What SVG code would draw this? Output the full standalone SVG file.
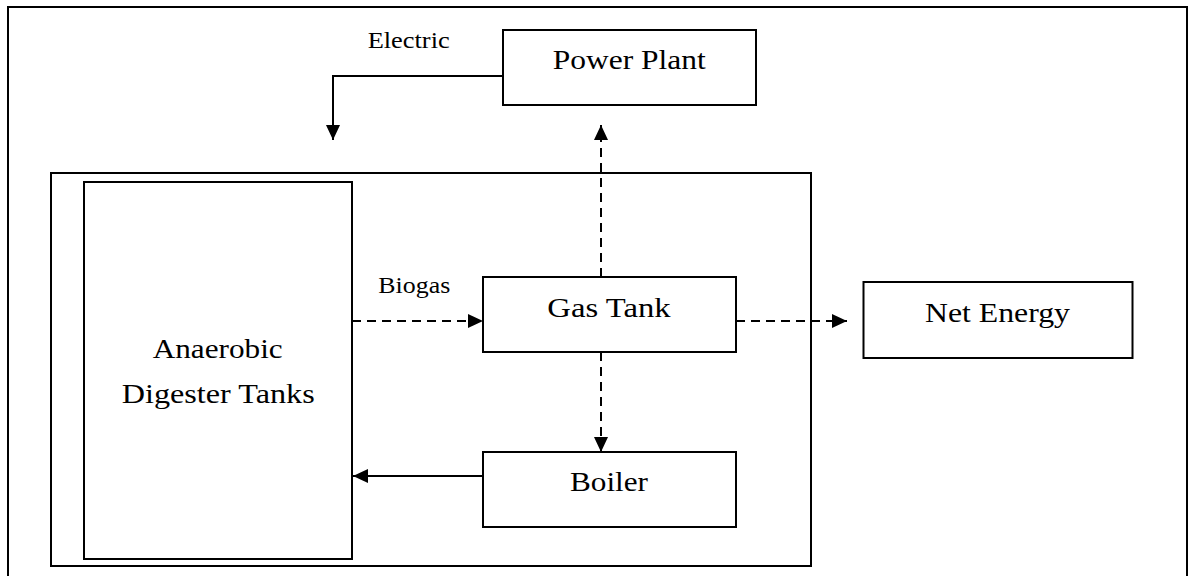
<svg xmlns="http://www.w3.org/2000/svg" width="1189" height="576" viewBox="0 0 1189 576">
<defs>
<style>
.box{fill:#fff;stroke:#000;stroke-width:2}
.frame{fill:none;stroke:#000;stroke-width:2}
.lbl{font-family:"Liberation Serif","Times New Roman",serif;font-size:28px;fill:#000}
.sm{font-family:"Liberation Serif","Times New Roman",serif;font-size:23px;fill:#000}
.solid{fill:none;stroke:#000;stroke-width:2}
.dash{fill:none;stroke:#000;stroke-width:2;stroke-dasharray:9 6}
</style>
<marker id="ah" markerUnits="userSpaceOnUse" markerWidth="16" markerHeight="16" viewBox="0 0 16 16" refX="15" refY="8" orient="auto">
<path d="M0,1 L15,8 L0,15 Z" fill="#000"/>
</marker>
</defs>
<rect class="frame" x="8" y="7" width="1179" height="620"/>
<g id="container"><rect class="frame" x="51" y="173" width="760" height="393"/></g>
<g id="power-plant"><rect class="box" x="503" y="30" width="253" height="75"/><text class="lbl" x="552.7" y="69.3" textLength="153" lengthAdjust="spacingAndGlyphs">Power Plant</text></g>
<g id="digester"><rect class="box" x="84" y="182" width="268" height="377"/><text class="lbl" x="152.7" y="358.3" textLength="130" lengthAdjust="spacingAndGlyphs">Anaerobic</text><text class="lbl" x="121.7" y="402.7" textLength="193" lengthAdjust="spacingAndGlyphs">Digester Tanks</text></g>
<g id="gas-tank"><rect class="box" x="483" y="277" width="253" height="75"/><text class="lbl" x="547.3" y="316.7" textLength="123.3" lengthAdjust="spacingAndGlyphs">Gas Tank</text></g>
<g id="net-energy"><rect class="box" x="863.5" y="282" width="269" height="76"/><text class="lbl" x="925" y="321.7" textLength="145" lengthAdjust="spacingAndGlyphs">Net Energy</text></g>
<g id="boiler"><rect class="box" x="483" y="452" width="253" height="75"/><text class="lbl" x="570" y="490.7" textLength="78" lengthAdjust="spacingAndGlyphs">Boiler</text></g>
<g id="connectors">
<path class="solid" d="M503,76 H333 V140" marker-end="url(#ah)"/>
<text class="sm" x="367.7" y="48" textLength="82" lengthAdjust="spacingAndGlyphs">Electric</text>
<path class="dash" d="M601,277 V125" marker-end="url(#ah)"/>
<path class="dash" d="M352,321 H483" marker-end="url(#ah)"/>
<text class="sm" x="378.3" y="293.3" textLength="72" lengthAdjust="spacingAndGlyphs">Biogas</text>
<path class="dash" d="M736,321 H847" marker-end="url(#ah)"/>
<path class="dash" d="M601,352 V452" marker-end="url(#ah)"/>
<path class="solid" d="M483,476 H353" marker-end="url(#ah)"/>
</g>
</svg>
